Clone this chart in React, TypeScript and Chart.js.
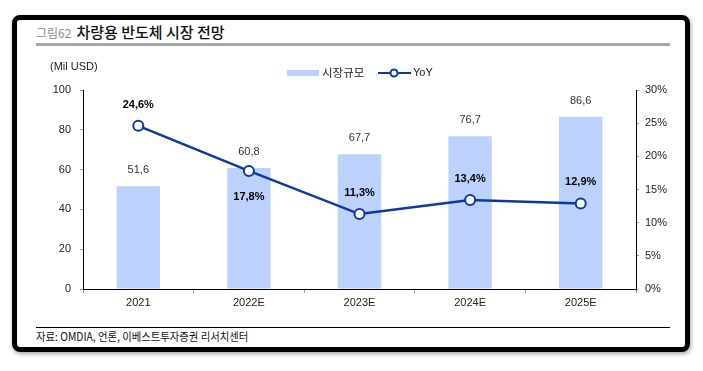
import React, { useEffect, useRef } from "react";
import { Chart, registerables } from "chart.js";

Chart.register(...registerables);

const categories = ["2021", "2022E", "2023E", "2024E", "2025E"];
const marketSize = [51.6, 60.8, 67.7, 76.7, 86.6];
const yoy = [24.6, 17.8, 11.3, 13.4, 12.9];
const yoyLabelBelow = [false, true, false, false, false];
const barSeriesName = "시장규모";
const lineSeriesName = "YoY";
const unitLabel = "(Mil USD)";
const titlePrefix = "그림62";
const titleText = "차량용 반도체 시장 전망";
const sourceText = "자료: OMDIA, 언론, 이베스트투자증권 리서치센터";

const BAR_COLOR = "#bcd1fb";
const LINE_COLOR = "#0c3a9e";
const SANS = '"Liberation Sans", Arial, "Noto Sans CJK KR", sans-serif';
const KR = '"Noto Sans CJK KR", "Liberation Sans", sans-serif';

const labelsPlugin = {
  id: "valueLabels",
  afterDatasetsDraw(chart: any) {
    const ctx = chart.ctx;
    ctx.save();
    ctx.textAlign = "center";
    ctx.textBaseline = "middle";
    const barMeta = chart.getDatasetMeta(0);
    ctx.font = `11px ${SANS}`;
    ctx.fillStyle = "#333";
    barMeta.data.forEach((el: any, i: number) => {
      ctx.fillText(marketSize[i].toFixed(1).replace(".", ","), el.x, el.y - 16);
    });
    const lineMeta = chart.getDatasetMeta(1);
    ctx.font = `bold 11px ${SANS}`;
    ctx.fillStyle = "#000";
    lineMeta.data.forEach((el: any, i: number) => {
      const dy = yoyLabelBelow[i] ? 26 : -21;
      ctx.fillText(yoy[i].toFixed(1).replace(".", ",") + "%", el.x, el.y + dy);
    });
    ctx.restore();
  },
  afterDraw(chart: any) {
    const ctx = chart.ctx;
    ctx.save();
    ctx.font = `11px ${SANS}`;
    ctx.fillStyle = "#222";
    ctx.textAlign = "left";
    ctx.textBaseline = "middle";
    ctx.fillText(unitLabel, 50, 67);
    const ly = 73;
    ctx.fillStyle = BAR_COLOR;
    ctx.fillRect(287, ly - 3, 32, 6);
    ctx.fillStyle = "#222";
    ctx.font = `11.5px ${KR}`;
    ctx.fillText(barSeriesName, 322, ly);
    ctx.strokeStyle = LINE_COLOR;
    ctx.lineWidth = 2;
    ctx.beginPath();
    ctx.moveTo(378, ly);
    ctx.lineTo(411, ly);
    ctx.stroke();
    ctx.beginPath();
    ctx.arc(394, ly, 3.5, 0, Math.PI * 2);
    ctx.fillStyle = "#fff";
    ctx.fill();
    ctx.stroke();
    ctx.fillStyle = "#222";
    ctx.font = `11px ${SANS}`;
    ctx.fillText(lineSeriesName, 413, ly);
    ctx.restore();
  },
};

export default function App() {
  const canvasRef = useRef<HTMLCanvasElement | null>(null);

  useEffect(() => {
    if (!canvasRef.current) return;
    const tickFont = { family: SANS, size: 11 };
    const chart = new Chart(canvasRef.current, {
      type: "bar",
      data: {
        labels: categories,
        datasets: [
          {
            type: "bar",
            label: barSeriesName,
            data: marketSize,
            backgroundColor: BAR_COLOR,
            borderWidth: 0,
            yAxisID: "y",
            order: 2,
            categoryPercentage: 0.8,
            barPercentage: 0.49,
          },
          {
            type: "line",
            label: lineSeriesName,
            data: yoy,
            borderColor: LINE_COLOR,
            borderWidth: 2.5,
            pointRadius: 5,
            pointBackgroundColor: "#fff",
            pointBorderColor: LINE_COLOR,
            pointBorderWidth: 2,
            tension: 0,
            yAxisID: "y1",
            order: 1,
          } as any,
        ],
      },
      options: {
        responsive: false,
        animation: false,
        layout: { padding: { top: 90, bottom: 62, left: 0, right: 0 } },
        plugins: {
          legend: { display: false },
          tooltip: { enabled: false },
          title: { display: false },
        },
        scales: {
          x: {
            grid: { drawOnChartArea: false, tickLength: 4, color: "#999", offset: true },
            border: { display: true, color: "#000", width: 1 },
            ticks: { color: "#222", font: tickFont, padding: 3 },
            afterFit: (s: any) => { s.height = 20; },
          },
          y: {
            position: "left",
            min: 0,
            max: 100,
            ticks: { stepSize: 20, color: "#222", font: tickFont, padding: 9 },
            grid: { drawOnChartArea: false, tickLength: 3, color: "#999" },
            border: { display: true, color: "#000", width: 1 },
            afterFit: (s: any) => { s.width = 83; },
          },
          y1: {
            position: "right",
            min: 0,
            max: 30,
            ticks: {
              stepSize: 5,
              color: "#222",
              font: tickFont,
              padding: 6,
              callback: (v: any) => v + "%",
            },
            grid: { drawOnChartArea: false, tickLength: 3, color: "#999" },
            border: { display: true, color: "#000", width: 1 },
            afterFit: (s: any) => { s.width = 67; },
          },
        },
      } as any,
      plugins: [labelsPlugin],
    });
    return () => chart.destroy();
  }, []);

  return (
    <div style={{ position: "fixed", left: 0, top: 0, width: 703, height: 371, background: "#fff", overflow: "hidden" }}>
      <div
        style={{
          position: "absolute",
          left: 12,
          top: 15,
          width: 678,
          height: 337,
          boxSizing: "border-box",
          border: "5px solid #000",
          borderRadius: 8,
          boxShadow: "1px 2px 4px rgba(0,0,0,0.35)",
        }}
      />
      <div style={{ position: "absolute", left: 36, top: 21, whiteSpace: "nowrap", fontFamily: KR, lineHeight: "20px" }}>
        <span style={{ fontSize: 12, color: "#8c8c8c", marginRight: 5 }}>{titlePrefix}</span>
        <span style={{ fontSize: 15, color: "#111", fontWeight: 500 }}>{titleText}</span>
      </div>
      <div style={{ position: "absolute", left: 36, top: 43, width: 634, height: 3, background: "#a6a6a6" }} />
      <div style={{ position: "absolute", left: 36, top: 327, width: 634, height: 1, background: "#000" }} />
      <div
        style={{
          position: "absolute",
          left: 36,
          top: 328,
          whiteSpace: "nowrap",
          fontFamily: KR,
          fontSize: 11.5,
          color: "#111",
          lineHeight: "16px",
          transform: "scaleX(0.9)",
          transformOrigin: "left center",
        }}
      >
        {sourceText}
      </div>
      <canvas ref={canvasRef} width={703} height={371} style={{ position: "absolute", left: 0, top: 0 }} />
    </div>
  );
}
